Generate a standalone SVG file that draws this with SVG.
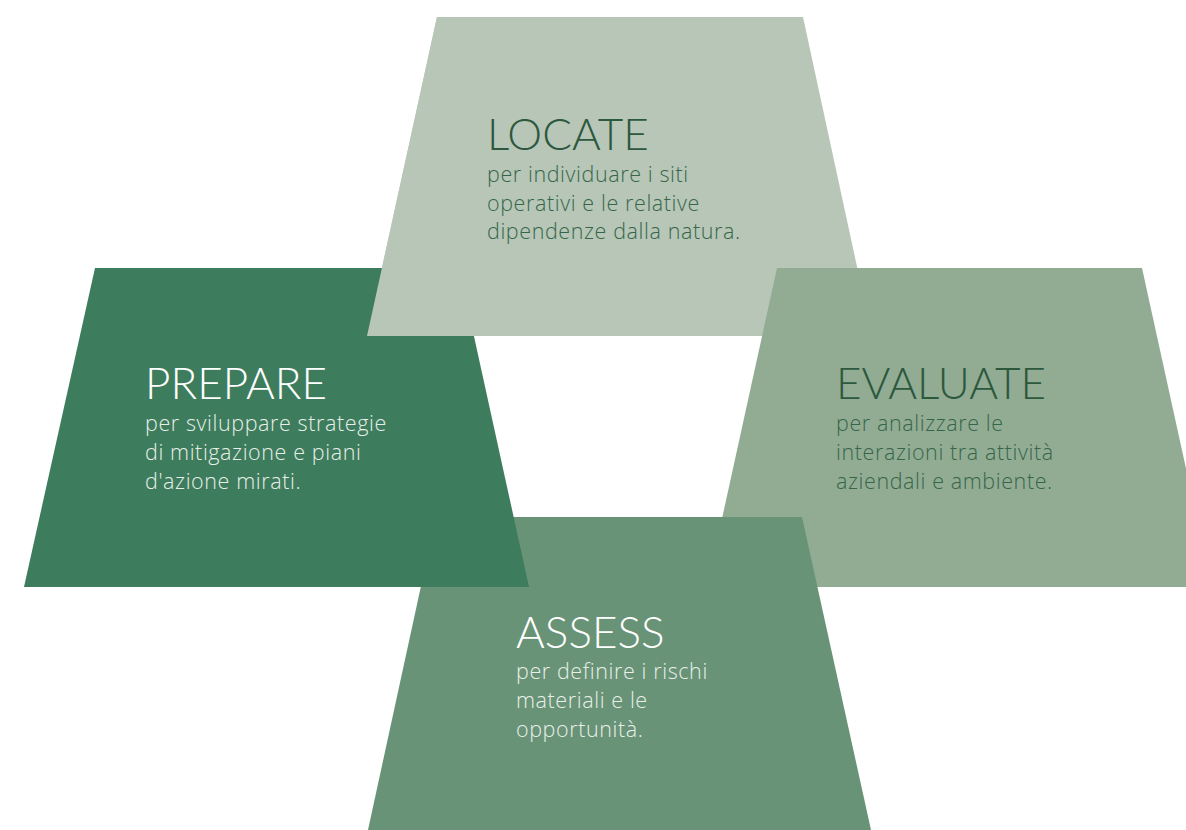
<svg xmlns="http://www.w3.org/2000/svg" width="1186" height="830" viewBox="0 0 1186 830">
<style>
.t{font-family:Lato,"Liberation Sans",sans-serif;font-weight:300;font-size:44px}
.b{font-family:"Open Sans","Liberation Sans",sans-serif;font-weight:300;font-size:21.5px;letter-spacing:0.6px}
.dk{fill:#2c583d}
.lt{fill:#ffffff}
.bd{fill:#36664a}
.bl{fill:#e8efe9}
</style>
<rect width="1186" height="830" fill="#ffffff"/>
<g id="locate-shape"><polygon points="437,17 803,17 872,336 367,336" fill="#b7c6b7"/></g>
<g id="evaluate"><polygon points="777,268 1142,268 1212,587 707,587" fill="#92ac94"/>
<text class="t dk" x="836" y="399">EVALUATE</text>
<text class="b bd"><tspan x="836" y="431">per analizzare le</tspan><tspan x="836" y="460">interazioni tra attività</tspan><tspan x="836" y="489">aziendali e ambiente.</tspan></text></g>
<g id="assess"><polygon points="436,517 802,517 871,830 368,830" fill="#689377"/>
<text class="t lt" x="516" y="648">ASSESS</text>
<text class="b bl"><tspan x="516" y="679">per definire i rischi</tspan><tspan x="516" y="708">materiali e le</tspan><tspan x="516" y="737">opportunità.</tspan></text></g>
<g id="prepare"><polygon points="95,268 459,268 529,587 24,587" fill="#3d7c5c"/>
<text class="t lt" x="145" y="399">PREPARE</text>
<text class="b bl"><tspan x="145" y="431">per sviluppare strategie</tspan><tspan x="145" y="460">di mitigazione e piani</tspan><tspan x="145" y="489">d'azione mirati.</tspan></text></g>
<g id="locate"><polygon points="437,17 640,17 640,336 367,336" fill="#b7c6b7"/>
<text class="t dk" x="487" y="150">LOCATE</text>
<text class="b bd"><tspan x="487" y="182">per individuare i siti</tspan><tspan x="487" y="211">operativi e le relative</tspan><tspan x="487" y="239">dipendenze dalla natura.</tspan></text></g>
<g id="connectors"></g>
</svg>
